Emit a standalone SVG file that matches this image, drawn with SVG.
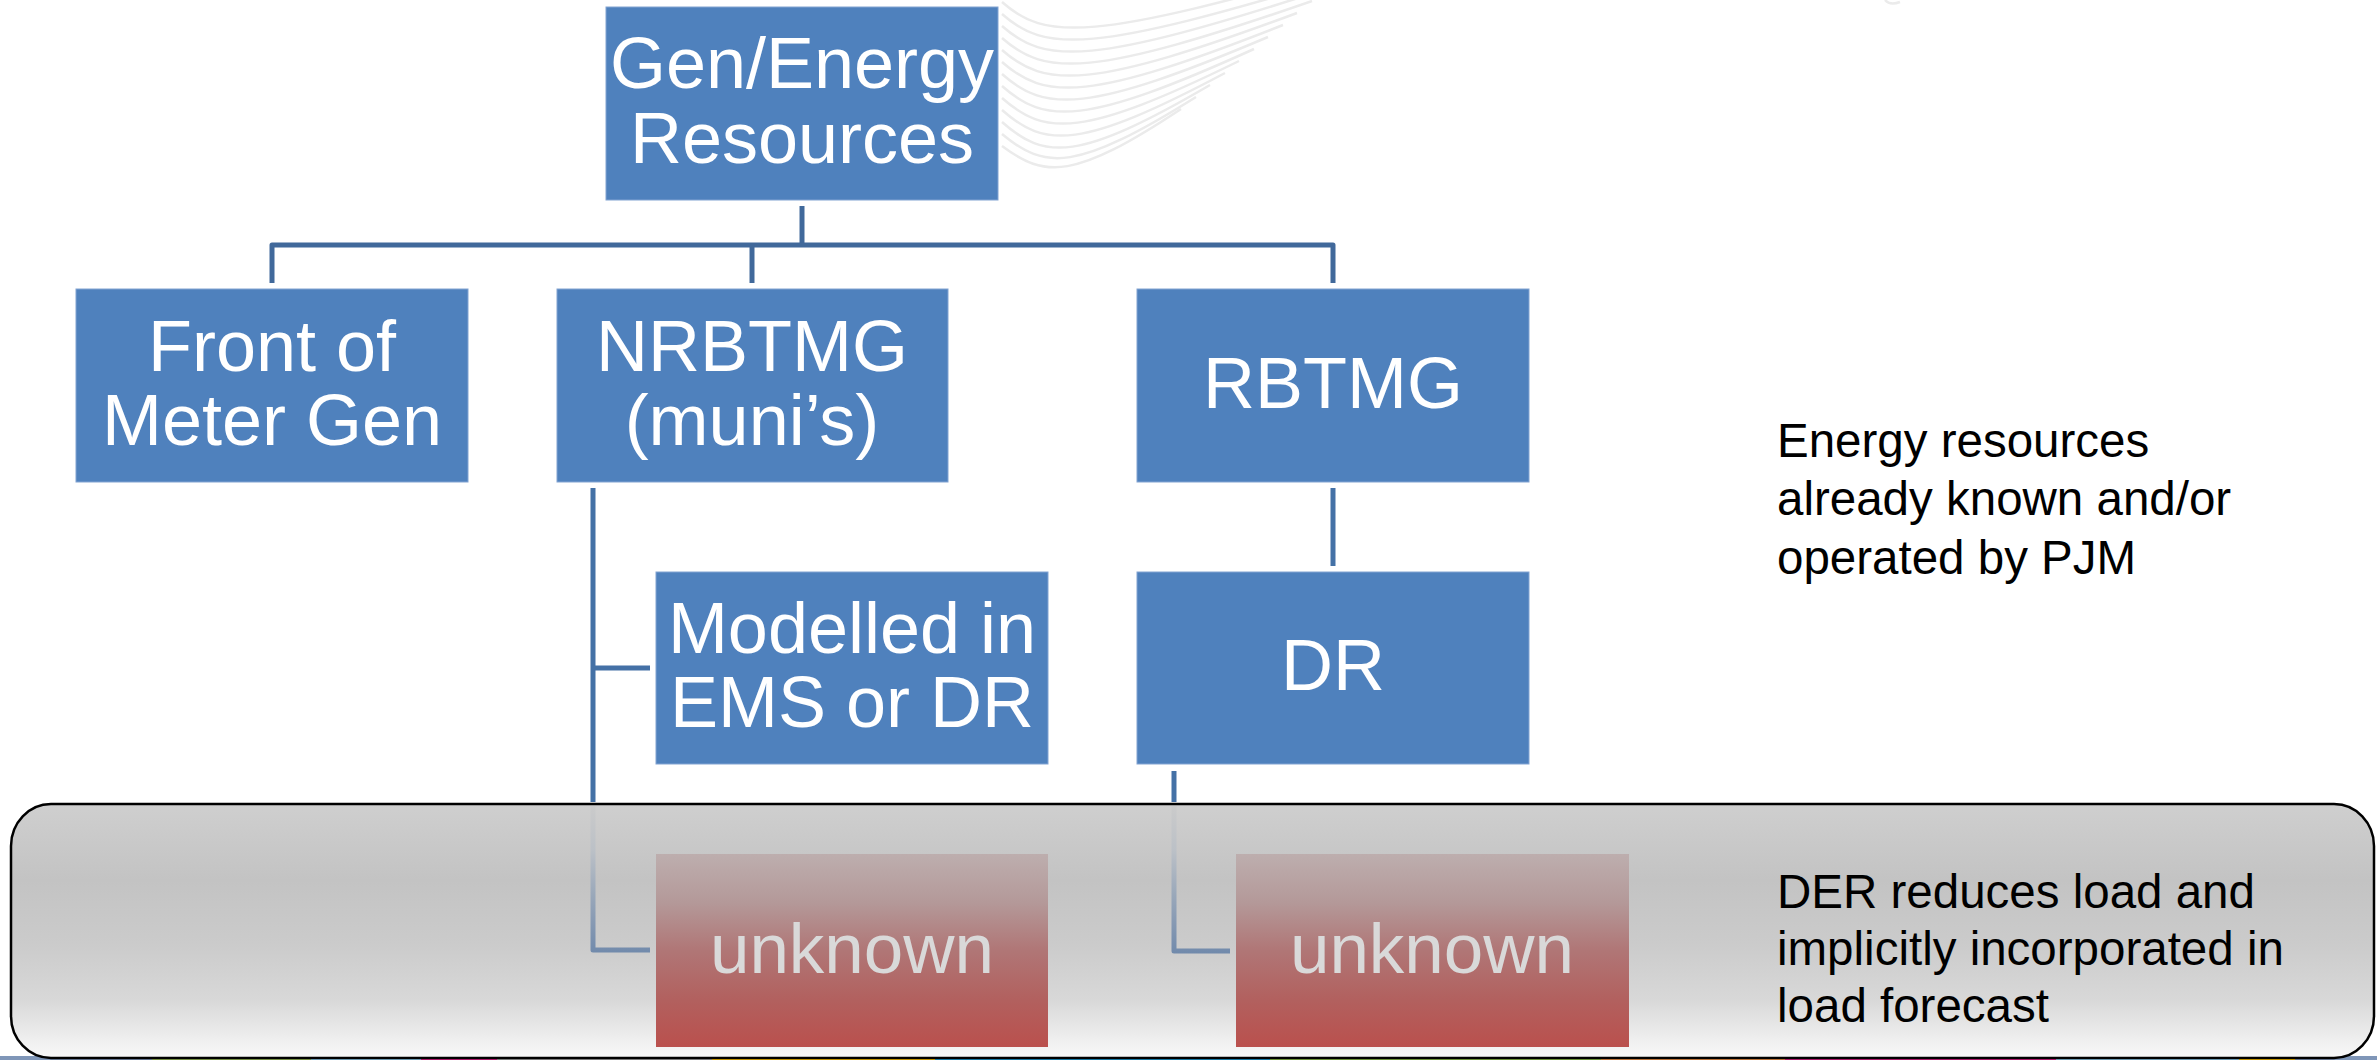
<svg xmlns="http://www.w3.org/2000/svg" width="2377" height="1060" viewBox="0 0 2377 1060">
<style>
  .box{fill:#4f81bd;stroke:#82a3d2;stroke-width:1}
  .lbl{font-family:"Liberation Sans",Arial,sans-serif;font-size:72px;fill:#ffffff;text-anchor:middle}
  .ulbl{font-family:"Liberation Sans",Arial,sans-serif;font-size:71px;fill:#d9d9d9;text-anchor:middle}
  .note{font-family:"Liberation Sans",Arial,sans-serif;font-size:47.5px;fill:#000000}
  .conn{fill:none;stroke:#4471a6;stroke-width:5;stroke-linejoin:round;stroke-linecap:butt}
  .connTop{stroke:#41699b}
  .fade{fill:none;stroke:url(#connGrad);stroke-width:5;stroke-linejoin:round}
  .wave{fill:none;stroke:#ebebeb;stroke-width:2.5}
</style>
<defs>
  <linearGradient id="panelGrad" x1="0" y1="0" x2="0" y2="1">
    <stop offset="0" stop-color="#cfcfcf"/>
    <stop offset="0.3" stop-color="#c3c3c3"/>
    <stop offset="0.55" stop-color="#cbcbcb"/>
    <stop offset="0.77" stop-color="#d8d8d8"/>
    <stop offset="0.95" stop-color="#f2f2f2"/>
    <stop offset="1" stop-color="#f8f8f8"/>
  </linearGradient>
  <linearGradient id="unkGrad" gradientUnits="userSpaceOnUse" x1="0" y1="854" x2="0" y2="1047">
    <stop offset="0" stop-color="#bdaeae"/>
    <stop offset="0.25" stop-color="#b49999"/>
    <stop offset="0.5" stop-color="#b07676"/>
    <stop offset="0.76" stop-color="#b2605e"/>
    <stop offset="1" stop-color="#ba504d"/>
  </linearGradient>
  <linearGradient id="connGrad" gradientUnits="userSpaceOnUse" x1="0" y1="804" x2="0" y2="955">
    <stop offset="0" stop-color="#cbcbcb"/>
    <stop offset="0.3" stop-color="#bcc1c7"/>
    <stop offset="0.6" stop-color="#9aa8ba"/>
    <stop offset="1" stop-color="#7089ab"/>
  </linearGradient>
</defs>

<rect x="0" y="0" width="2377" height="1060" fill="#ffffff"/>

<g id="decoration">
  <path class="wave" d="M1002,2 C1045,40 1090,42 1355,-35"/>
  <path class="wave" d="M1002,14 C1045,52 1090,54 1341,-23"/>
  <path class="wave" d="M1002,26 C1045,64 1090,66 1326,-11"/>
  <path class="wave" d="M1002,38 C1045,76 1090,78 1312,1"/>
  <path class="wave" d="M1002,50 C1045,88 1090,90 1297,13"/>
  <path class="wave" d="M1002,62 C1045,100 1088,102 1283,25"/>
  <path class="wave" d="M1002,74 C1045,112 1086,114 1268,37"/>
  <path class="wave" d="M1002,86 C1045,124 1084,126 1254,49"/>
  <path class="wave" d="M1002,98 C1045,136 1082,138 1239,61"/>
  <path class="wave" d="M1002,110 C1045,148 1080,150 1225,73"/>
  <path class="wave" d="M1002,122 C1045,160 1078,162 1210,85"/>
  <path class="wave" d="M1002,134 C1045,170 1076,172 1196,97"/>
  <path class="wave" d="M1002,146 C1045,178 1074,180 1181,109"/>
  <path class="wave" d="M1885,0 Q1890,6 1900,2"/>
  <rect x="0" y="1056" width="152" height="4" fill="#7f96b8"/>
  <rect x="152" y="1056" width="159" height="4" fill="#9bbb59"/>
  <rect x="311" y="1056" width="110" height="4" fill="#8cc7e8"/>
  <rect x="421" y="1056" width="76" height="4" fill="#e0218a"/>
  <rect x="497" y="1056" width="215" height="4" fill="#a0a0a0"/>
  <rect x="712" y="1056" width="223" height="4" fill="#ffc000"/>
  <rect x="935" y="1056" width="335" height="4" fill="#1e9fd8"/>
  <rect x="1270" y="1056" width="331" height="4" fill="#8fc04a"/>
  <rect x="1601" y="1056" width="184" height="4" fill="#f7964a"/>
  <rect x="1785" y="1056" width="271" height="4" fill="#e0218a"/>
  <rect x="2056" y="1056" width="183" height="4" fill="#8cc7e8"/>
  <rect x="2239" y="1056" width="56" height="4" fill="#ffc000"/>
  <rect x="2295" y="1056" width="82" height="4" fill="#7f96b8"/>
</g>

<g id="panel">
  <rect x="11" y="804" width="2363" height="254" rx="40" ry="42" fill="url(#panelGrad)" stroke="#000000" stroke-width="2.5"/>
</g>

<g id="connectors">
  <path class="conn connTop" d="M802,206 V245"/>
  <path class="conn connTop" d="M272,283 V245 H1333 V283"/>
  <path class="conn connTop" d="M752,245 V283"/>
  <path class="conn" d="M593,488 V802"/>
  <path class="conn" d="M593,668 H650"/>
  <path class="conn" d="M1333,488 V566"/>
  <path class="conn" d="M1174,771 V802"/>
  <path class="fade" d="M593,806 V950 H650"/>
  <path class="fade" d="M1174,806 V951 H1230"/>
</g>

<g id="node-gen">
  <rect class="box" x="606" y="7" width="392" height="193"/>
  <text class="lbl" x="802" y="88">Gen/Energy</text>
  <text class="lbl" x="802" y="163">Resources</text>
</g>
<g id="node-front">
  <rect class="box" x="76" y="289" width="392" height="193"/>
  <text class="lbl" x="272" y="371">Front of</text>
  <text class="lbl" x="272" y="445">Meter Gen</text>
</g>
<g id="node-nrbtmg">
  <rect class="box" x="557" y="289" width="391" height="193"/>
  <text class="lbl" x="752" y="371">NRBTMG</text>
  <text class="lbl" x="752" y="445">(muni’s)</text>
</g>
<g id="node-rbtmg">
  <rect class="box" x="1137" y="289" width="392" height="193"/>
  <text class="lbl" x="1333" y="408">RBTMG</text>
</g>
<g id="node-modelled">
  <rect class="box" x="656" y="572" width="392" height="192"/>
  <text class="lbl" x="852" y="653">Modelled in</text>
  <text class="lbl" x="852" y="727">EMS or DR</text>
</g>
<g id="node-dr">
  <rect class="box" x="1137" y="572" width="392" height="192"/>
  <text class="lbl" x="1333" y="690">DR</text>
</g>
<g id="node-unknown1">
  <rect x="656" y="854" width="392" height="193" fill="url(#unkGrad)"/>
  <text class="ulbl" x="852" y="973">unknown</text>
</g>
<g id="node-unknown2">
  <rect x="1236" y="854" width="393" height="193" fill="url(#unkGrad)"/>
  <text class="ulbl" x="1432" y="973">unknown</text>
</g>

<g id="note-known">
  <text class="note" x="1777" y="457">Energy resources</text>
  <text class="note" x="1777" y="515">already known and/or</text>
  <text class="note" x="1777" y="574">operated by PJM</text>
</g>
<g id="note-der">
  <text class="note" x="1777" y="908">DER reduces load and</text>
  <text class="note" x="1777" y="965">implicitly incorporated in</text>
  <text class="note" x="1777" y="1022">load forecast</text>
</g>
</svg>
